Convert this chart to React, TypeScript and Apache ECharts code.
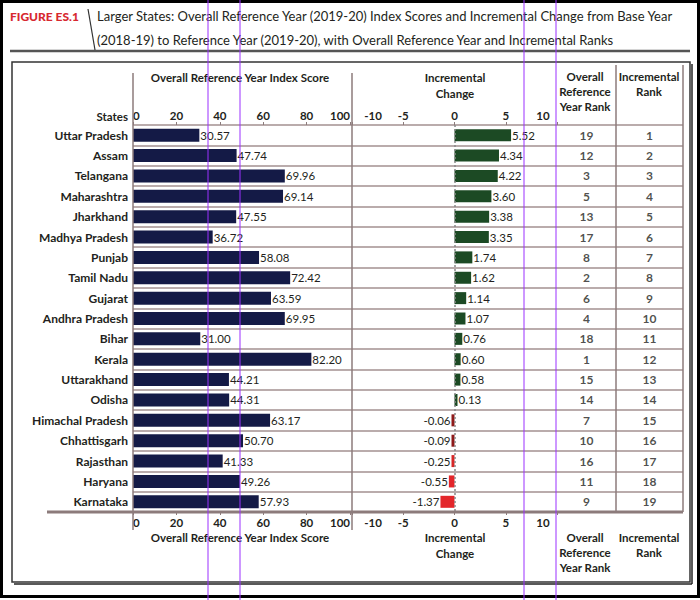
import React, { useEffect, useRef } from "react";
import * as echarts from "echarts";

const states = [
  "Uttar Pradesh", "Assam", "Telangana", "Maharashtra", "Jharkhand", "Madhya Pradesh",
  "Punjab", "Tamil Nadu", "Gujarat", "Andhra Pradesh", "Bihar", "Kerala", "Uttarakhand",
  "Odisha", "Himachal Pradesh", "Chhattisgarh", "Rajasthan", "Haryana", "Karnataka",
];
const indexScore = [30.57, 47.74, 69.96, 69.14, 47.55, 36.72, 58.08, 72.42, 63.59, 69.95, 31.0, 82.2, 44.21, 44.31, 63.17, 50.7, 41.33, 49.26, 57.93];
const incrementalChange = [5.52, 4.34, 4.22, 3.6, 3.38, 3.35, 1.74, 1.62, 1.14, 1.07, 0.76, 0.6, 0.58, 0.13, -0.06, -0.09, -0.25, -0.55, -1.37];
const overallRank = [19, 12, 3, 5, 13, 17, 8, 2, 6, 4, 18, 1, 15, 14, 7, 10, 16, 11, 9];
const incrementalRank = [1, 2, 3, 4, 5, 6, 7, 8, 9, 10, 11, 12, 13, 14, 15, 16, 17, 18, 19];

const FONT = "Lato, Roboto, sans-serif";
const NARROW = "Lato, Roboto, sans-serif";
const TXT = "#231f20";
const RULE = "#a39191";
const RULE_D = "#8c7b7b";

function negColor(v: number) {
  if (v > -0.1) return "#8e1b1b";
  if (v > -0.3) return "#d62828";
  return "#e3262b";
}

export default function App() {
  const ref = useRef<HTMLDivElement>(null);
  useEffect(() => {
    if (!ref.current) return;
    const chart = echarts.init(ref.current, undefined, { renderer: "svg" });
    const gTop = 125;
    const gH = 387;
    const head = (x: number, y: number, text: string, align = "center") => ({
      type: "text",
      x,
      y,
      z: 10,
      style: { text, fill: TXT, font: `bold 11.5px ${NARROW}`, textAlign: align, textVerticalAlign: "middle" },
    });
    const vline = (x: number, y1: number, y2: number, w = 1.5, c = RULE_D) => ({
      type: "line",
      z: 5,
      shape: { x1: x, y1, x2: x, y2 },
      style: { stroke: c, lineWidth: w },
    });
    const purple = (x: number) => ({
      type: "line",
      z: 200,
      shape: { x1: x, y1: 0, x2: x, y2: 600 },
      style: { stroke: "#9b30ff", lineWidth: 1 },
    });
    const axisLabelBase = { fontWeight: "bold", fontSize: 11.5, color: TXT, fontFamily: NARROW, margin: 4 };
    const tick = { show: true, length: 3, lineStyle: { color: RULE_D, width: 1 } };
    const incFormatter = (v: number) => (v === -10 ? "{l|-10}" : v === 10 ? "{r|10}" : `${v}`);
    const incRich = {
      l: { padding: [0, 0, 0, 42], fontWeight: "bold", fontSize: 11.5, color: TXT, fontFamily: NARROW },
      r: { padding: [0, 28, 0, 0], fontWeight: "bold", fontSize: 11.5, color: TXT, fontFamily: NARROW },
    };
    const scoreAxis = (pos: string) => ({
      type: "value",
      gridIndex: 1,
      position: pos,
      min: 0,
      max: 100,
      interval: 20,
      axisLine: { show: false },
      axisTick: tick,
      splitLine: { show: false },
      axisLabel: { ...axisLabelBase, alignMinLabel: "left", alignMaxLabel: "right" },
    });
    const incAxis = (pos: string) => ({
      type: "value",
      gridIndex: 2,
      position: pos,
      min: -10,
      max: 10,
      interval: 5,
      axisLine: { show: false },
      axisTick: tick,
      splitLine: { show: false },
      axisLabel: { ...axisLabelBase, formatter: incFormatter, rich: incRich },
    });
    const hiddenX = (gi: number) => ({ type: "value", gridIndex: gi, min: 0, max: 1, show: false });
    const catY = (gi: number, showLabel: boolean, split: boolean) => ({
      type: "category",
      gridIndex: gi,
      data: states,
      inverse: true,
      axisLine: { show: false },
      axisTick: { show: false },
      axisLabel: showLabel
        ? { show: true, interval: 0, fontWeight: "bold", fontSize: 12, color: TXT, fontFamily: NARROW, margin: 5 }
        : { show: false, interval: 0 },
      splitLine: split ? { show: true, interval: 0, lineStyle: { color: RULE, width: 1.5 } } : { show: false },
    });
    const rankLabel = {
      show: true,
      position: "inside",
      fontWeight: "bold",
      fontSize: 12,
      color: TXT,
      fontFamily: NARROW,
      formatter: (p: any) => `${p.value[2]}`,
    };
    chart.setOption({
      animation: false,
      backgroundColor: "#fff",
      grid: [
        { left: 133, top: gTop, width: 550, height: gH },
        { left: 133, top: gTop, width: 217, height: gH },
        { left: 352, top: gTop, width: 205, height: gH },
        { left: 557, top: gTop, width: 59, height: gH },
        { left: 616, top: gTop, width: 67, height: gH },
      ],
      xAxis: [
        scoreAxis("bottom"),
        scoreAxis("top"),
        incAxis("bottom"),
        incAxis("top"),
        hiddenX(0),
        hiddenX(3),
        hiddenX(4),
      ],
      yAxis: [catY(0, false, true), catY(1, true, false), catY(2, false, false), catY(3, false, false), catY(4, false, false)],
      series: [
        {
          type: "bar",
          xAxisIndex: 0,
          yAxisIndex: 1,
          data: indexScore,
          barWidth: 13,
          itemStyle: { color: "#141a46" },
          label: {
            show: true,
            position: "right",
            distance: 1,
            fontSize: 11.5,
            color: TXT,
            fontFamily: NARROW,
            formatter: (p: any) => Number(p.value).toFixed(2),
          },
        },
        {
          type: "bar",
          xAxisIndex: 2,
          yAxisIndex: 2,
          barWidth: 12,
          barMinHeight: 3,
          data: incrementalChange.map((v) => ({
            value: v,
            itemStyle: { color: v >= 0 ? "#1c4a24" : negColor(v) },
            label: { position: v >= 0 ? "right" : "left" },
          })),
          label: {
            show: true,
            distance: 1,
            fontSize: 11.5,
            color: TXT,
            fontFamily: NARROW,
            formatter: (p: any) => Number(p.value).toFixed(2),
          },
          markLine: {
            silent: true,
            symbol: "none",
            label: { show: false },
            lineStyle: { color: "#888", width: 1.5, type: [2, 2] },
            data: [{ xAxis: 0 }],
          },
        },
        {
          type: "scatter",
          xAxisIndex: 5,
          yAxisIndex: 3,
          symbolSize: 1,
          itemStyle: { color: "rgba(0,0,0,0)" },
          data: overallRank.map((r, i) => [0.5, i, r]),
          label: rankLabel,
        },
        {
          type: "scatter",
          xAxisIndex: 6,
          yAxisIndex: 4,
          symbolSize: 1,
          itemStyle: { color: "rgba(0,0,0,0)" },
          data: incrementalRank.map((r, i) => [0.5, i, r]),
          label: rankLabel,
        },
      ],
      graphic: [
        { type: "rect", z: 1, shape: { x: 1.5, y: 1.5, width: 697, height: 595 }, style: { fill: "none", stroke: "#000", lineWidth: 3 } },
        { type: "rect", z: 1, shape: { x: 12, y: 62, width: 678, height: 520 }, style: { fill: "none", stroke: "#333", lineWidth: 1.5 } },
        { type: "line", z: 1, shape: { x1: 692, y1: 64, x2: 692, y2: 584 }, style: { stroke: "#222", lineWidth: 1.5 } },
        { type: "line", z: 1, shape: { x1: 14, y1: 584, x2: 692, y2: 584 }, style: { stroke: "#222", lineWidth: 1.5 } },
        { type: "line", z: 1, shape: { x1: 10, y1: 51, x2: 690, y2: 51 }, style: { stroke: "#555", lineWidth: 2.5 } },
        { type: "line", z: 1, shape: { x1: 88, y1: 9, x2: 95, y2: 50 }, style: { stroke: "#333", lineWidth: 1.2 } },
        {
          type: "text", x: 10, y: 16, z: 10,
          style: { text: "FIGURE ES.1", fill: "#d7282f", font: `900 12px ${FONT}`, textVerticalAlign: "middle" },
        },
        {
          type: "text", x: 97, y: 16, z: 10,
          style: { text: "Larger States: Overall Reference Year (2019-20) Index Scores and Incremental Change from Base Year", fill: TXT, font: `13px ${FONT}`, textVerticalAlign: "middle" },
        },
        {
          type: "text", x: 97, y: 40, z: 10,
          style: { text: "(2018-19) to Reference Year (2019-20), with Overall Reference Year and Incremental Ranks", fill: TXT, font: `13px ${FONT}`, textVerticalAlign: "middle" },
        },
        vline(133, 73, 530),
        vline(352, 73, 530),
        vline(616, 65, 512),
        vline(683, 65, 512),
        { type: "line", z: 6, shape: { x1: 47, y1: 512, x2: 683, y2: 512 }, style: { stroke: RULE_D, lineWidth: 3 } },
        head(128, 116, "States", "right"),
        head(240, 77, "Overall Reference Year Index Score"),
        head(455, 77, "Incremental"),
        head(455, 93, "Change"),
        head(585, 76, "Overall"),
        head(585, 91, "Reference"),
        head(585, 106, "Year Rank"),
        head(649, 76, "Incremental"),
        head(649, 91, "Rank"),
        head(240, 537, "Overall Reference Year Index Score"),
        head(455, 537, "Incremental"),
        head(455, 553, "Change"),
        head(585, 537, "Overall"),
        head(585, 552, "Reference"),
        head(585, 567, "Year Rank"),
        head(649, 537, "Incremental"),
        head(649, 552, "Rank"),
        purple(208),
        purple(240),
        purple(524),
        purple(556),
      ],
    });
    return () => chart.dispose();
  }, []);
  return <div ref={ref} style={{ position: "fixed", left: 0, top: 0, width: 700, height: 600, background: "#fff" }} />;
}
